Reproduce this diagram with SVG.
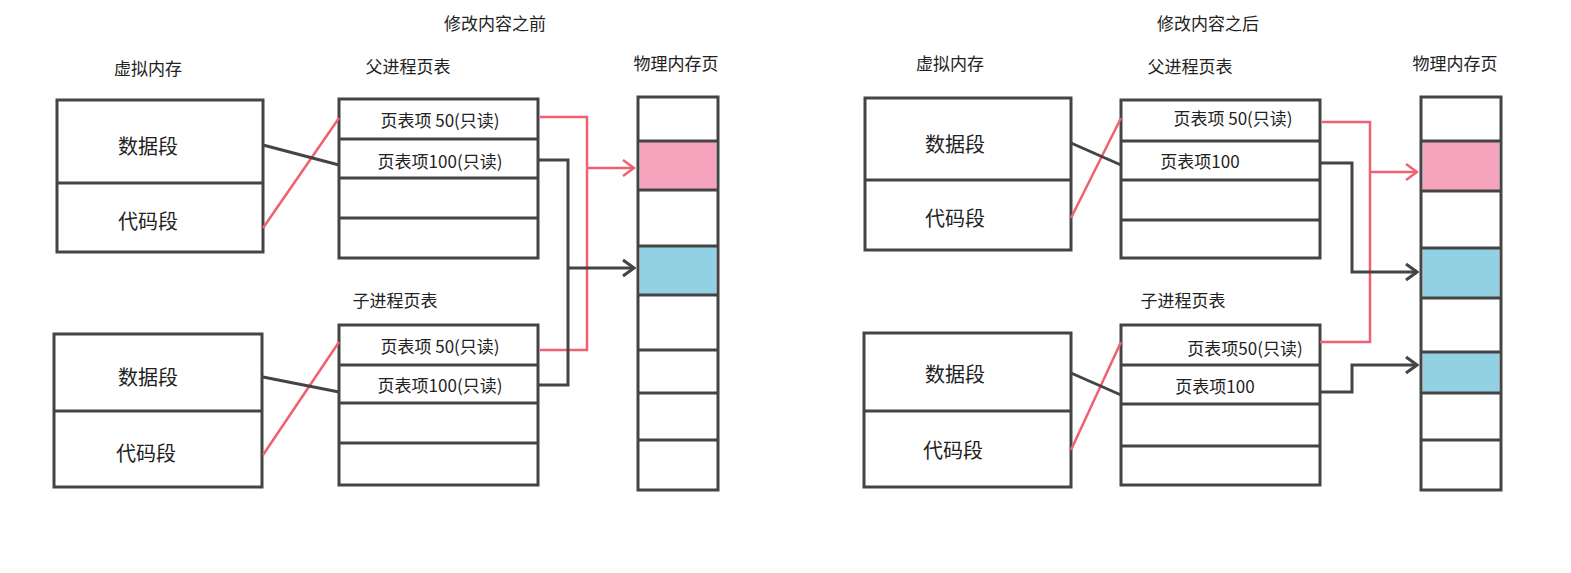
<svg xmlns="http://www.w3.org/2000/svg" width="1571" height="573" viewBox="0 0 1571 573">
<style>
text{font-family:"Noto Sans CJK SC","Liberation Sans",sans-serif;font-size:17px;fill:#222;text-anchor:middle;dominant-baseline:central}
.seg{font-size:20px}
.box{fill:#fff;stroke:#444;stroke-width:3}
.ln{stroke:#444;stroke-width:3}
.red{fill:none;stroke:#f06070;stroke-width:2.5}
.blk{fill:none;stroke:#444;stroke-width:3}
.pink{fill:#f6a4bd}
.blue{fill:#92d0e3}
</style>
<defs>
<marker id="ar" markerWidth="14" markerHeight="20" refX="12" refY="10" orient="auto" markerUnits="userSpaceOnUse"><path d="M1,2 L12,10 L1,18" fill="none" stroke="#f06070" stroke-width="2.5"/></marker>
<marker id="ab" markerWidth="14" markerHeight="20" refX="12" refY="10" orient="auto" markerUnits="userSpaceOnUse"><path d="M1,2 L12,10 L1,18" fill="none" stroke="#444" stroke-width="3"/></marker>
</defs>
<rect width="1571" height="573" fill="#fff"/>
<text x="495" y="22">修改内容之前</text>
<text x="1208" y="22">修改内容之后</text>

<g id="left-vm">
<text x="148" y="67">虚拟内存</text>
<rect class="box" x="57" y="100" width="206" height="152"/><line class="ln" x1="57" y1="183" x2="263" y2="183"/>
<text class="seg" x="148" y="145">数据段</text><text class="seg" x="148" y="220">代码段</text>
<rect class="box" x="54" y="334" width="208" height="153"/><line class="ln" x1="54" y1="411" x2="262" y2="411"/>
<text class="seg" x="148" y="376">数据段</text><text class="seg" x="146" y="452">代码段</text>
</g>
<g id="left-parent">
<text x="408" y="65">父进程页表</text>
<rect class="box" x="339" y="99" width="199" height="159"/>
<line class="ln" x1="339" y1="139" x2="538" y2="139"/><line class="ln" x1="339" y1="178" x2="538" y2="178"/><line class="ln" x1="339" y1="218" x2="538" y2="218"/>
<text x="440" y="119">页表项 50(只读)</text><text x="440" y="160">页表项100(只读)</text>
</g>
<g id="left-child">
<text x="395" y="299">子进程页表</text>
<rect class="box" x="339" y="325" width="199" height="160"/>
<line class="ln" x1="339" y1="365" x2="538" y2="365"/><line class="ln" x1="339" y1="403" x2="538" y2="403"/><line class="ln" x1="339" y1="443" x2="538" y2="443"/>
<text x="440" y="345">页表项 50(只读)</text><text x="440" y="384">页表项100(只读)</text>
</g>
<g id="left-phys">
<text x="676" y="62">物理内存页</text>
<rect class="box" x="638" y="97" width="80" height="393"/>
<rect class="pink" x="640" y="142" width="76" height="48"/><rect class="blue" x="640" y="247" width="76" height="48"/>
<line class="ln" x1="638" y1="141" x2="718" y2="141"/><line class="ln" x1="638" y1="190" x2="718" y2="190"/><line class="ln" x1="638" y1="246" x2="718" y2="246"/><line class="ln" x1="638" y1="295" x2="718" y2="295"/><line class="ln" x1="638" y1="350" x2="718" y2="350"/><line class="ln" x1="638" y1="393" x2="718" y2="393"/><line class="ln" x1="638" y1="440" x2="718" y2="440"/>
</g>

<g id="right-vm">
<text x="950" y="62">虚拟内存</text>
<rect class="box" x="865" y="98" width="206" height="152"/><line class="ln" x1="865" y1="180" x2="1071" y2="180"/>
<text class="seg" x="955" y="143">数据段</text><text class="seg" x="955" y="217">代码段</text>
<rect class="box" x="864" y="333" width="207" height="154"/><line class="ln" x1="864" y1="411" x2="1071" y2="411"/>
<text class="seg" x="955" y="373">数据段</text><text class="seg" x="953" y="449">代码段</text>
</g>
<g id="right-parent">
<text x="1190" y="65">父进程页表</text>
<rect class="box" x="1121" y="100" width="199" height="158"/>
<line class="ln" x1="1121" y1="141" x2="1320" y2="141"/><line class="ln" x1="1121" y1="180" x2="1320" y2="180"/><line class="ln" x1="1121" y1="220" x2="1320" y2="220"/>
<text x="1233" y="117">页表项 50(只读)</text><text x="1200" y="160">页表项100</text>
</g>
<g id="right-child">
<text x="1183" y="299">子进程页表</text>
<rect class="box" x="1121" y="325" width="199" height="160"/>
<line class="ln" x1="1121" y1="365" x2="1320" y2="365"/><line class="ln" x1="1121" y1="404" x2="1320" y2="404"/><line class="ln" x1="1121" y1="446" x2="1320" y2="446"/>
<text x="1245" y="347">页表项50(只读)</text><text x="1215" y="385">页表项100</text>
</g>
<g id="right-phys">
<text x="1455" y="62">物理内存页</text>
<rect class="box" x="1421" y="97" width="80" height="393"/>
<rect class="pink" x="1423" y="142" width="76" height="49"/><rect class="blue" x="1423" y="249" width="76" height="49"/><rect class="blue" x="1423" y="353" width="76" height="40"/>
<line class="ln" x1="1421" y1="141" x2="1501" y2="141"/><line class="ln" x1="1421" y1="191" x2="1501" y2="191"/><line class="ln" x1="1421" y1="248" x2="1501" y2="248"/><line class="ln" x1="1421" y1="298" x2="1501" y2="298"/><line class="ln" x1="1421" y1="352" x2="1501" y2="352"/><line class="ln" x1="1421" y1="393" x2="1501" y2="393"/><line class="ln" x1="1421" y1="440" x2="1501" y2="440"/>
</g>

<g id="connectors">
<line class="red" x1="263" y1="228" x2="339" y2="118"/>
<line class="blk" x1="263" y1="145" x2="339" y2="165"/>
<line class="red" x1="263" y1="455" x2="339" y2="342"/>
<line class="blk" x1="263" y1="377" x2="339" y2="392"/>
<path class="red" d="M540,117 H587 V350 H540"/>
<path class="red" d="M587,168 H634" marker-end="url(#ar)"/>
<path class="blk" d="M538,160 H568 V385 H538"/>
<path class="blk" d="M568,268 H634" marker-end="url(#ab)"/>

<line class="red" x1="1071" y1="218" x2="1121" y2="118"/>
<line class="blk" x1="1071" y1="143" x2="1121" y2="165"/>
<line class="red" x1="1071" y1="450" x2="1121" y2="342"/>
<line class="blk" x1="1071" y1="373" x2="1121" y2="395"/>
<path class="red" d="M1322,122 H1370 V342 H1320"/>
<path class="red" d="M1370,172 H1417" marker-end="url(#ar)"/>
<path class="blk" d="M1320,163 H1352 V272 H1417" marker-end="url(#ab)"/>
<path class="blk" d="M1320,392 H1352 V365 H1417" marker-end="url(#ab)"/>
</g>
</svg>
